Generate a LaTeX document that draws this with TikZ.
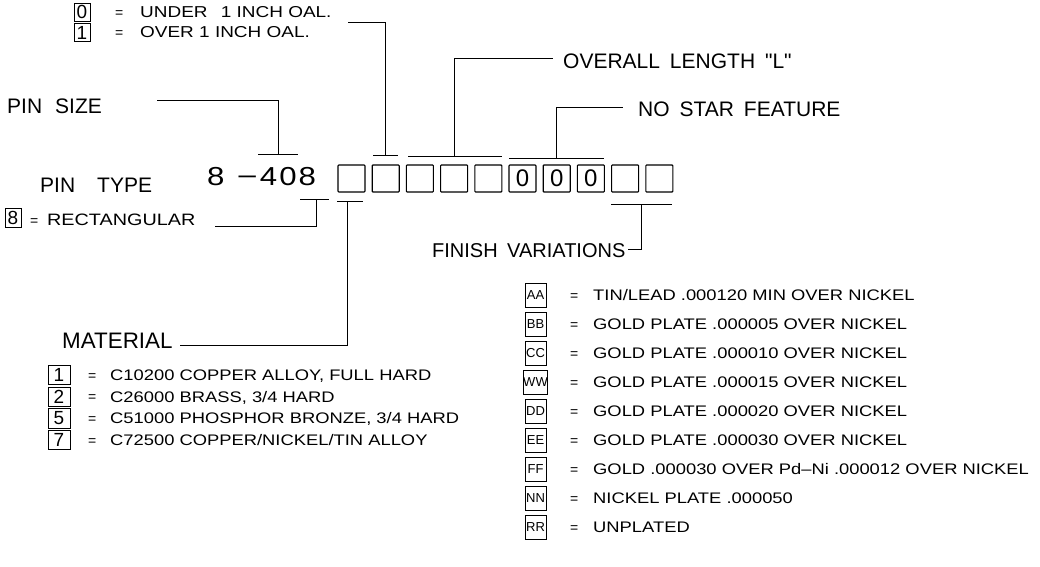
\documentclass[tikz,border=0pt]{standalone}
\usepackage{fontspec}
\setmainfont{Liberation Sans}
\newfontfamily\cadL[WordSpace=1.7]{Liberation Sans}
\newfontfamily\cadS[WordSpace=2.5,FakeStretch=1.2]{Liberation Sans}
\newfontfamily\cadN[FakeStretch=1.2]{Liberation Sans}
\tikzset{
  lbl/.style={font=\cadL\fontsize{21}{21}\selectfont, inner sep=0pt, anchor=base west},
  txt/.style={font=\cadS\fontsize{15.3}{15.3}\selectfont, inner sep=0pt, anchor=base west},
  eqs/.style={font=\cadL\fontsize{14}{14}\selectfont, inner sep=0pt, anchor=base west},
  slot/.style={draw, line width=1.1pt, minimum width=27pt, minimum height=27pt, inner sep=0pt, rounded corners=0.8pt, font=\cadL\fontsize{24}{24}\selectfont},
  keybox/.style={draw, line width=0.9pt, inner sep=0pt, font=\cadL\fontsize{19}{19}\selectfont},
  fkey/.style={draw, line width=0.9pt, inner sep=0pt, minimum width=21pt, minimum height=24pt, font=\cadL\fontsize{13}{13}\selectfont},
  lead/.style={line width=0.8pt},
}
\begin{document}
\begin{tikzpicture}[x=1pt,y=-1pt]
\useasboundingbox (0,0) rectangle (1040,566);

% ---- part number row ----
\node[font=\cadN\fontsize{26}{26}\selectfont, inner sep=0pt, anchor=base west] (pn) at (207,185) {8\hspace{14pt}\raisebox{2pt}{–}\hspace{4pt}4\hspace{2pt}0\hspace{2pt}8};
\foreach \i/\t in {0/,1/,2/,3/,4/,5/0,6/0,7/0,8/,9/}
  \node[slot] (b\i) at ({351.5+34.2*\i},178.5) {\t};

% ---- top legend (OAL) ----
\node[keybox, minimum width=16pt, minimum height=18pt] (k0) at (82,12) {0};
\node[keybox, minimum width=16pt, minimum height=18pt] (k1) at (82,32.5) {1};
\node[eqs] (e0) at (115,17) {=};
\node[txt, font=\cadS\fontsize{15.8}{15.8}\selectfont] (t0) at (140,17) {UNDER\hspace{8pt} 1 INCH OAL.};
\node[eqs] (e1) at (115,37) {=};
\node[txt, font=\cadS\fontsize{15.8}{15.8}\selectfont] (t1) at (140,37) {OVER 1 INCH OAL.};

% ---- labels ----
\node[lbl] (pinsize) at (7,113) {PIN\hspace{13pt}SIZE};
\node[lbl] (pintype) at (40,192) {PIN\hspace{22pt}TYPE};
\node[lbl, font=\cadL\fontsize{22.4}{22.4}\selectfont] (material) at (62,348) {MATERIAL};
\node[lbl, font=\cadL\fontsize{20}{20}\selectfont] (finish) at (432,257) {FINISH VARIATIONS};
\node[lbl] (overall) at (563,68) {OVERALL LENGTH "L"};
\node[lbl] (nostar) at (638,116) {NO STAR FEATURE};

% ---- pin type legend ----
\node[keybox, minimum width=16pt, minimum height=19pt] (k8) at (13,217.5) {8};
\node[eqs] (e8) at (30,225) {=};
\node[txt, font=\cadS\fontsize{16.5}{16.5}\selectfont] (t8) at (47,225) {RECTANGULAR};

% ---- bracket / leader coordinates ----
\coordinate (psA) at (258,154); \coordinate (psB) at (298,154);
\coordinate (psM) at (278,154); \coordinate (psE) at (157,100);
\coordinate (ptA) at (300,199); \coordinate (ptB) at (329,199);
\coordinate (ptM) at (316,199); \coordinate (ptE) at (215,226);
\coordinate (maA) at (337,201); \coordinate (maB) at (363,201);
\coordinate (maM) at (347,201); \coordinate (maE) at (180,345);
\coordinate (oaA) at (373,155); \coordinate (oaB) at (398,155);
\coordinate (oaM) at (385.7,155); \coordinate (oaE) at (348,22);
\coordinate (olA) at (408,156); \coordinate (olB) at (502,156);
\coordinate (olM) at (454.1,156); \coordinate (olE) at (553,58);
\coordinate (nsA) at (509,158); \coordinate (nsB) at (604,158);
\coordinate (nsM) at (556.7,158); \coordinate (nsE) at (623,107);
\coordinate (fvA) at (611,204); \coordinate (fvB) at (672,204);
\coordinate (fvM) at (641,204); \coordinate (fvE) at (628,249);

\draw[lead] (psA) -- (psB); \draw[lead] (psM) |- (psE);
\draw[lead] (ptA) -- (ptB); \draw[lead] (ptM) |- (ptE);
\draw[lead] (maA) -- (maB); \draw[lead] (maM) |- (maE);
\draw[lead] (oaA) -- (oaB); \draw[lead] (oaM) |- (oaE);
\draw[lead] (olA) -- (olB); \draw[lead] (olM) |- (olE);
\draw[lead] (nsA) -- (nsB); \draw[lead] (nsM) |- (nsE);
\draw[lead] (fvA) -- (fvB); \draw[lead] (fvM) |- (fvE);

% ---- material legend ----
\foreach \n/\d/\txt [count=\k from 0] in {
  m1/1/{C10200 COPPER ALLOY, FULL HARD},
  m2/2/{C26000 BRASS, 3/4 HARD},
  m5/5/{C51000 PHOSPHOR BRONZE, 3/4 HARD},
  m7/7/{C72500 COPPER/NICKEL/TIN ALLOY}} {
  \node[keybox, minimum width=22pt, minimum height=19.5pt] (\n k) at (59,{375+21.7*\k}) {\d};
  \node[eqs] (\n e) at (88,{380+21.7*\k}) {=};
  \node[txt] (\n t) at (110,{380.5+21.7*\k}) {\txt};
}

% ---- finish legend ----
\foreach \n/\txt [count=\k from 0] in {
  AA/{TIN/LEAD .000120 MIN OVER NICKEL},
  BB/{GOLD PLATE .000005 OVER NICKEL},
  CC/{GOLD PLATE .000010 OVER NICKEL},
  WW/{GOLD PLATE .000015 OVER NICKEL},
  DD/{GOLD PLATE .000020 OVER NICKEL},
  EE/{GOLD PLATE .000030 OVER NICKEL},
  FF/{GOLD .000030 OVER Pd–Ni .000012 OVER NICKEL},
  NN/{NICKEL PLATE .000050},
  RR/{UNPLATED}} {
  \node[fkey] (f\n k) at (535.5,{295+29*\k}) {\n};
  \node[eqs] (f\n e) at (570,{300+29*\k}) {=};
  \node[txt] (f\n t) at (593,{300.5+29*\k}) {\txt};
}
\end{tikzpicture}
\end{document}
